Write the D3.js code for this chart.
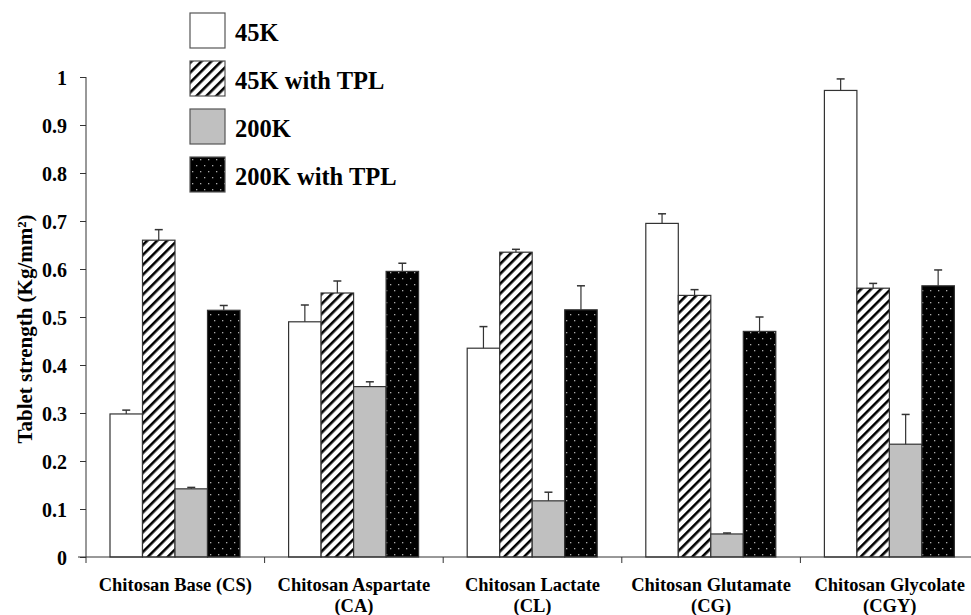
<!DOCTYPE html>
<html>
<head>
<meta charset="utf-8">
<script src="https://cdn.jsdelivr.net/npm/d3@7"></script>
<style>
  body { margin: 0; background: #fff; }
</style>
</head>
<body>
<div class="chartArea"></div>
<script>
const categories = ['Chitosan Base (CS)', 'Chitosan Aspartate (CA)', 'Chitosan Lactate (CL)', 'Chitosan Glutamate (CG)', 'Chitosan Glycolate (CGY)']
const catLines = [['Chitosan Base (CS)'], ['Chitosan Aspartate', '(CA)'], ['Chitosan Lactate', '(CL)'], ['Chitosan Glutamate', '(CG)'], ['Chitosan Glycolate', '(CGY)']]
const series = ['45K', '45K with TPL', '200K', '200K with TPL']
const v45K = [0.298, 0.49, 0.435, 0.695, 0.972]
const v45KTPL = [0.66, 0.55, 0.635, 0.545, 0.56]
const v200K = [0.142, 0.355, 0.117, 0.048, 0.235]
const v200KTPL = [0.514, 0.595, 0.515, 0.47, 0.565]
const e45K = [0.008, 0.035, 0.045, 0.02, 0.024]
const e45KTPL = [0.022, 0.025, 0.006, 0.012, 0.01]
const e200K = [0.003, 0.01, 0.018, 0.002, 0.062]
const e200KTPL = [0.01, 0.017, 0.05, 0.03, 0.033]
const yTicks = [0, 0.1, 0.2, 0.3, 0.4, 0.5, 0.6, 0.7, 0.8, 0.9, 1]

const values = [v45K, v45KTPL, v200K, v200KTPL]
const errors = [e45K, e45KTPL, e200K, e200KTPL]
const fills = ['#fff', 'url(#hatch)', '#c0c0c0', 'url(#dots)']

let width = 971, height = 615
let plotLeft = 86, plotRight = 979, plotTop = 77, plotBottom = 557
const serif = 'Liberation Serif, DejaVu Serif, serif'

const svg = d3.select('.chartArea')
    .append('svg')
    .attr('width', width)
    .attr('height', height)
    .attr('font-family', serif)
    .attr('font-weight', 'bold')

// patterns
const defs = svg.append('defs')
const hatch = defs.append('pattern')
    .attr('id', 'hatch')
    .attr('patternUnits', 'userSpaceOnUse')
    .attr('width', 7).attr('height', 7)
    .attr('patternTransform', 'rotate(45)')
hatch.append('rect').attr('width', 7).attr('height', 7).attr('fill', '#fff')
hatch.append('rect').attr('width', 2.6).attr('height', 7).attr('fill', '#000')

const dots = defs.append('pattern')
    .attr('id', 'dots')
    .attr('patternUnits', 'userSpaceOnUse')
    .attr('width', 8).attr('height', 12)
dots.append('rect').attr('width', 8).attr('height', 12).attr('fill', '#000')
dots.append('rect').attr('x', 2).attr('y', 2).attr('width', 1.3).attr('height', 1.3).attr('fill', '#aaa')
dots.append('rect').attr('x', 6).attr('y', 8).attr('width', 1.3).attr('height', 1.3).attr('fill', '#aaa')

const xScale = d3.scaleBand()
    .domain(categories)
    .range([plotLeft, plotRight])

const xInner = d3.scaleBand()
    .domain(series)
    .range([24, 154])

const yScale = d3.scaleLinear()
    .domain([0, 1])
    .range([plotBottom, plotTop])

// y axis
const yAxis = d3.axisLeft(yScale)
    .tickValues(yTicks)
    .tickFormat(d => d3.format('')(d))
    .tickSize(6)
    .tickSizeOuter(0)

const yG = svg.append('g')
    .attr('transform', `translate(${plotLeft}, 0)`)
    .call(yAxis)
yG.select('.domain').attr('stroke', '#333').attr('d', `M0,${plotTop}V${plotBottom + 6}`)
yG.selectAll('.tick line').attr('stroke', '#333')
yG.selectAll('.tick text')
    .attr('x', -19)
    .attr('dy', '0.36em')
    .attr('fill', '#000')
    .style('font-family', serif)
    .style('font-size', '20px')
    .style('font-weight', 'bold')

svg.append('text')
    .attr('transform', `translate(32, 329) rotate(-90)`)
    .attr('text-anchor', 'middle')
    .attr('font-size', 21)
    .text('Tablet strength (Kg/mm²)')

// bars
categories.forEach((cat, ci) => {
  series.forEach((s, si) => {
    const x0 = xScale(cat) + xInner(s)
    const bw = xInner.bandwidth()
    const val = values[si][ci]
    svg.append('rect')
      .attr('x', x0)
      .attr('y', yScale(val))
      .attr('width', bw)
      .attr('height', yScale(0) - yScale(val))
      .attr('fill', fills[si])
      .attr('stroke', '#333')
      .attr('stroke-width', 1.2)
    // error bar (upward only)
    const cx = x0 + bw / 2
    const yt = yScale(val + errors[si][ci])
    svg.append('line')
      .attr('x1', cx).attr('x2', cx)
      .attr('y1', yScale(val)).attr('y2', yt)
      .attr('stroke', '#333').attr('stroke-width', 1.2)
    svg.append('line')
      .attr('x1', cx - 4).attr('x2', cx + 4)
      .attr('y1', yt).attr('y2', yt)
      .attr('stroke', '#333').attr('stroke-width', 1.5)
  })
})

// x axis
const xAxis = d3.axisBottom(xScale).tickSize(0).tickFormat('')
const xG = svg.append('g')
    .attr('transform', `translate(0, ${plotBottom})`)
    .call(xAxis)
xG.select('.domain').attr('stroke', '#333').attr('d', `M${plotLeft - 8},0H${plotRight}`)
xG.selectAll('.tick').remove()
categories.forEach((cat, i) => {
  if (i > 0) {
    svg.append('line')
      .attr('x1', xScale(cat)).attr('x2', xScale(cat))
      .attr('y1', plotBottom).attr('y2', plotBottom + 6)
      .attr('stroke', '#333')
  }
  const t = svg.append('text')
    .attr('text-anchor', 'middle')
    .attr('x', xScale(cat) + xScale.bandwidth() / 2)
    .attr('y', 591)
    .attr('font-size', 18.5)
  catLines[i].forEach((line, li) => {
    t.append('tspan')
      .attr('x', xScale(cat) + xScale.bandwidth() / 2)
      .attr('dy', li === 0 ? 0 : 21)
      .text(line)
  })
})

// legend
const legend = svg.append('g').attr('transform', 'translate(190, 13)')
series.forEach((s, i) => {
  const g = legend.append('g').attr('transform', `translate(0, ${i * 48})`)
  g.append('rect')
    .attr('width', 35).attr('height', 35)
    .attr('fill', fills[i])
    .attr('stroke', '#555').attr('stroke-width', 1.2)
  g.append('text')
    .attr('x', 45).attr('y', 28)
    .attr('font-size', 24.5)
    .text(s)
})
</script>
</body>
</html>
